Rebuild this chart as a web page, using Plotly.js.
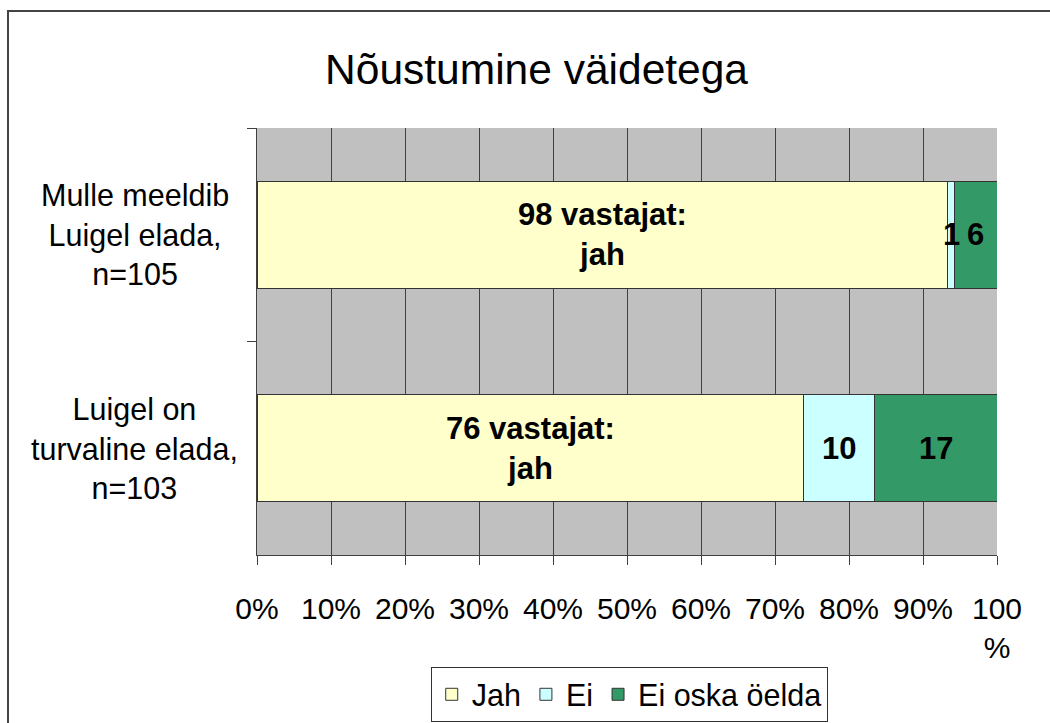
<!DOCTYPE html>
<html>
<head>
<meta charset="utf-8">
<script src="https://cdn.plot.ly/plotly-3.0.1.min.js"></script>
<style>
  html, body { margin: 0; padding: 0; background: #fff; overflow: hidden; }
  #chart { width: 1050px; height: 723px; }
  #frame { position: absolute; left: 7px; top: 10px; width: 1200px; height: 900px;
           border-left: 2px solid #444; border-top: 2px solid #444; pointer-events: none; }
</style>
</head>
<body>
<div id="chart"></div>
<div id="frame"></div>
<script>
// ---- data ----
const categories = ["Mulle meeldib<br>Luigel elada,<br>n=105", "Luigel on<br>turvaline elada,<br>n=103"];
const seriesNames = ["Jah", "Ei", "Ei oska öelda"];
const jah = [98, 76];
const ei = [1, 10];
const eiOska = [6, 17];
const xTickValues = [0, 10, 20, 30, 40, 50, 60, 70, 80, 90, 100];
const xTickLabels = ["0%", "10%", "20%", "30%", "40%", "50%", "60%", "70%", "80%", "90%", "100<br>%"];
const titleText = "Nõustumine väidetega";

const colors = ["#FFFFCC", "#CCFFFF", "#339966"];
const font = "Liberation Sans, Arial, sans-serif";
const series = [jah, ei, eiOska];

const traces = series.map((vals, i) => ({
  type: "bar",
  orientation: "h",
  name: seriesNames[i],
  y: categories,
  x: vals,
  width: 0.5,
  marker: { color: colors[i], line: { color: "#333", width: 1 } },
  hoverinfo: "none"
}));

// annotations for data labels, positioned through data coordinates
const annotations = [];
categories.forEach((cat, c) => {
  const total = series.reduce((s, arr) => s + arr[c], 0);
  let cum = 0;
  series.forEach((arr, i) => {
    const pct = arr[c] / total * 100;
    const center = cum + pct / 2;
    cum += pct;
    const txt = i === 0 ? `${arr[c]} vastajat:<br>jah` : `${arr[c]}`;
    annotations.push({
      x: center, y: cat, xref: "x", yref: "y",
      text: "<b>" + txt + "</b>", showarrow: false, align: "center",
      font: { family: font, size: 31, color: "#000" }
    });
  });
  // category label
  annotations.push({
    x: -0.165, xref: "paper", y: cat, yref: "y",
    text: cat, showarrow: false, align: "center", xanchor: "center",
    font: { family: font, size: 30.5, color: "#000" }
  });
});

const layout = {
  width: 1050, height: 723,
  margin: { l: 257, r: 53, t: 128, b: 168, autoexpand: false },
  paper_bgcolor: "rgba(0,0,0,0)",
  plot_bgcolor: "#C0C0C0",
  barmode: "stack",
  barnorm: "percent",
  title: {
    text: titleText, x: 0.511, xref: "container", y: 0.905, yref: "container",
    xanchor: "center", yanchor: "middle",
    font: { family: font, size: 42.5, color: "#000" }
  },
  xaxis: {
    range: [0, 100], tickvals: xTickValues, ticktext: xTickLabels,
    showgrid: true, gridcolor: "#404040", gridwidth: 1,
    showline: true, linecolor: "#404040", linewidth: 1,
    ticks: "outside", ticklen: 9, tickcolor: "#404040",
    ticklabelstandoff: 18,
    tickfont: { family: font, size: 30, color: "#000" },
    zeroline: false, fixedrange: true, automargin: false
  },
  yaxis: {
    type: "category", autorange: "reversed", range: [1.5, -0.5],
    showticklabels: false, tickson: "boundaries",
    ticks: "outside", ticklen: 9, tickcolor: "#404040",
    showgrid: false, showline: true, linecolor: "#404040", linewidth: 1,
    zeroline: false, fixedrange: true, automargin: false
  },
  showlegend: true,
  legend: {
    orientation: "h", x: 0.503, xanchor: "center", y: -0.391, yanchor: "bottom",
    xref: "paper", yref: "paper",
    bgcolor: "#fff", bordercolor: "#333", borderwidth: 1,
    font: { family: font, size: 30.5, color: "#000" },
    traceorder: "normal"
  },
  annotations: annotations
};

Plotly.newPlot("chart", traces, layout, { displayModeBar: false, staticPlot: true });
</script>
</body>
</html>
